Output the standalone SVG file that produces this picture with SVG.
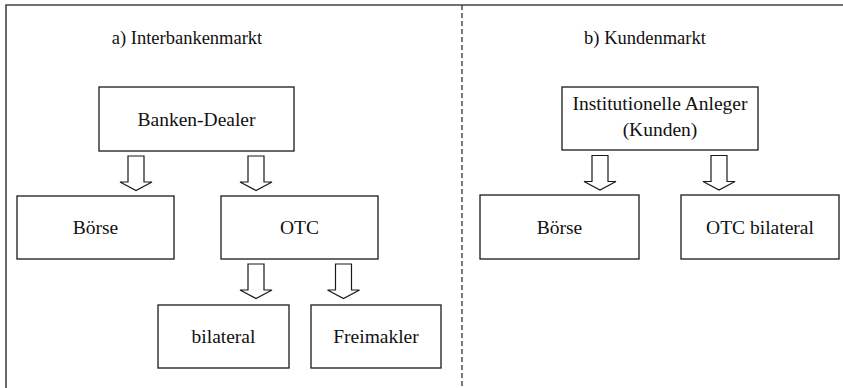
<svg xmlns="http://www.w3.org/2000/svg" width="843" height="388" viewBox="0 0 843 388">
<style>
.box{fill:#fff;stroke:#1a1a1a;stroke-width:1.3}
.arr{fill:#fff;stroke:#1a1a1a;stroke-width:1.2;stroke-linejoin:miter}
.t{font-family:"Liberation Serif","Times New Roman",serif;font-size:19.5px;fill:#111;text-anchor:middle}
.h{font-family:"Liberation Serif","Times New Roman",serif;font-size:18.5px;fill:#111;text-anchor:middle}
.frame{fill:none;stroke:#444;stroke-width:1.6}
</style>
<defs>
<path id="down" d="M-8,0 H8 V26 H16 L0,34.5 L-16,26 H-8 Z"/>
</defs>
<rect width="843" height="388" fill="#fff"/>
<g id="frame">
<path class="frame" d="M6,388 V5 H843"/>
<line x1="462" y1="5" x2="462" y2="388" stroke="#333" stroke-width="1.3" stroke-dasharray="5,3"/>
</g>
<g id="titles">
<text class="h" x="187" y="44">a) Interbankenmarkt</text>
<text class="h" x="645" y="44">b) Kundenmarkt</text>
</g>
<g id="connectors">
<use href="#down" class="arr" x="136" y="156"/>
<use href="#down" class="arr" x="256" y="156"/>
<use href="#down" class="arr" x="256" y="264"/>
<use href="#down" class="arr" x="343.5" y="264"/>
<use href="#down" class="arr" x="600" y="155.5"/>
<use href="#down" class="arr" x="719" y="155.5"/>
</g>
<g id="banken-dealer">
<rect class="box" x="99" y="87" width="195" height="64"/>
<text class="t" x="196.5" y="125.5">Banken-Dealer</text>
</g>
<g id="boerse-a">
<rect class="box" x="17" y="196" width="157" height="63"/>
<text class="t" x="95.5" y="234">Börse</text>
</g>
<g id="otc">
<rect class="box" x="221" y="196" width="157" height="63"/>
<text class="t" x="299.5" y="234">OTC</text>
</g>
<g id="bilateral">
<rect class="box" x="158" y="305" width="131" height="63"/>
<text class="t" x="223.5" y="343">bilateral</text>
</g>
<g id="freimakler">
<rect class="box" x="311" y="305" width="130" height="63"/>
<text class="t" x="376" y="343">Freimakler</text>
</g>
<g id="institutionelle">
<rect class="box" x="562" y="87" width="196" height="63"/>
<text class="t" x="660" y="110">Institutionelle Anleger</text>
<text class="t" x="660" y="136">(Kunden)</text>
</g>
<g id="boerse-b">
<rect class="box" x="480" y="195" width="159" height="64"/>
<text class="t" x="559.5" y="233.5">Börse</text>
</g>
<g id="otc-bilateral">
<rect class="box" x="681" y="195" width="158" height="64"/>
<text class="t" x="760" y="233.5">OTC bilateral</text>
</g>
</svg>
